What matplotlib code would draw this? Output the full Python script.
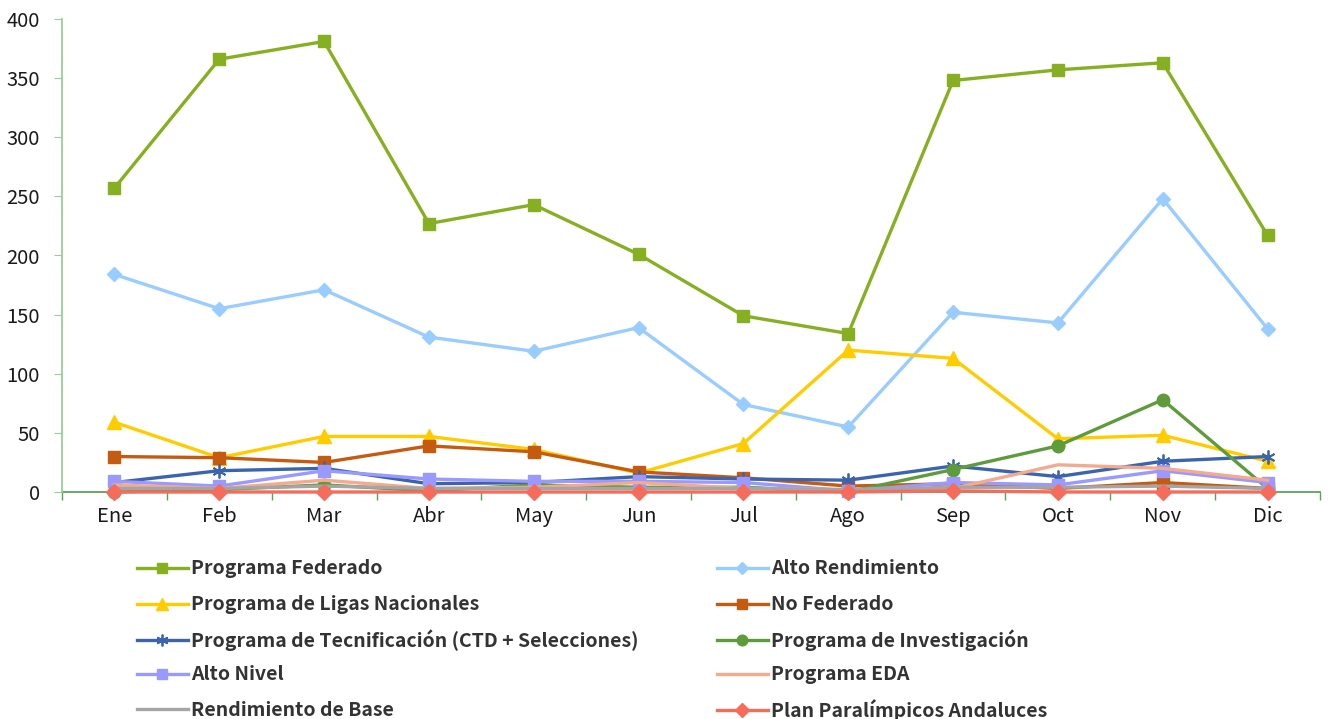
import matplotlib
matplotlib.use("Agg")
import matplotlib.pyplot as plt
from matplotlib.ticker import MultipleLocator, FixedLocator

plt.rcParams['font.family'] = ['Noto Sans CJK SC', 'DejaVu Sans']

months = ["Ene", "Feb", "Mar", "Abr", "May", "Jun", "Jul", "Ago", "Sep", "Oct", "Nov", "Dic"]

programa_federado = [257, 366, 381, 227, 243, 201, 149, 134, 348, 357, 363, 217]
alto_rendimiento = [184, 155, 171, 131, 119, 139, 74, 55, 152, 143, 248, 138]
ligas_nacionales = [59, 29, 47, 47, 36, 16, 41, 120, 113, 45, 48, 26]
no_federado = [30, 29, 25, 39, 34, 17, 12, 5, 7, 3, 8, 3]
tecnificacion = [8, 18, 20, 7, 8, 13, 11, 10, 22, 13, 26, 30]
investigacion = [0, 2, 6, 1, 6, 4, 4, 0, 19, 39, 78, 3]
alto_nivel = [9, 5, 18, 11, 9, 9, 8, 1, 8, 6, 18, 8]
programa_eda = [6, 3, 10, 3, 4, 8, 3, 2, 3, 23, 20, 10]
rendimiento_base = [3, 3, 5, 3, 3, 3, 3, 2, 4, 4, 5, 3]
paralimpicos = [0, 0, 0, 0, 0, 0, 0, 0, 1, 0, 0, 0]

W, H = 1328, 719
fig = plt.figure(figsize=(W / 100, H / 100), dpi=100)
ax = fig.add_axes([62/W, 1-492/H, (1320-62)/W, (492-19)/H])

x = list(range(len(months)))
lw = 2.4
series = [
    ("Programa Federado", programa_federado, "#86AF21", "s", 9),
    ("Alto Rendimiento", alto_rendimiento, "#99CCFF", "D", 7.2),
    ("Programa de Ligas Nacionales", ligas_nacionales, "#FFCC00", "^", 10),
    ("No Federado", no_federado, "#C55A11", "s", 9),
    ("Programa de Tecnificación (CTD + Selecciones)", tecnificacion, "#3C64AE", (6, 2, 0), 10),
    ("Programa de Investigación", investigacion, "#5E9B3B", "o", 9),
    ("Alto Nivel", alto_nivel, "#9999FF", "s", 9),
    ("Programa EDA", programa_eda, "#F4AA8E", None, 0),
    ("Rendimiento de Base", rendimiento_base, "#A5A5A5", None, 0),
    ("Plan Paralímpicos Andaluces", paralimpicos, "#F56C5C", "D", 8.2),
]

handles = []
for i, (name, vals, col, mk, ms) in enumerate(series):
    kw = dict(color=col, lw=lw, label=name, zorder=3 + i * 0.1, clip_on=False)
    if mk is not None:
        if mk == (6, 2, 0):
            kw.update(marker=mk, markersize=ms, markeredgecolor=col, markeredgewidth=1.3)
        else:
            kw.update(marker=mk, markersize=ms, markeredgecolor=col, markerfacecolor=col)
    h, = ax.plot(x, vals, **kw)
    handles.append((h, name))

ax.set_xlim(-0.5, 11.5)
ax.set_ylim(0, 400)
ax.yaxis.set_major_locator(MultipleLocator(50))
ax.set_xticks(x)
ax.set_xticklabels(months)
ax.xaxis.set_minor_locator(FixedLocator([i + 0.5 for i in range(-1, 12)]))

for s in ["top", "right"]:
    ax.spines[s].set_visible(False)
ax.spines["left"].set_color("#9ACF9A")
ax.spines["left"].set_linewidth(1.3)
ax.spines["bottom"].set_color("#5BA35B")
ax.spines["bottom"].set_linewidth(1.3)
ax.spines["bottom"].set_zorder(2)
ax.tick_params(axis="y", which="major", direction="out", length=6, color="#9ACF9A",
               labelsize=14.5, labelcolor="#1a1a1a", pad=10)
ax.tick_params(axis="x", which="major", length=0, labelsize=14.5, labelcolor="#1a1a1a", pad=10)
ax.tick_params(axis="x", which="minor", direction="out", length=6, color="#5BA35B", width=1)

# Legend: two columns, entries filled row by row
col_x = [137, 717]
row_y = [569, 605, 640, 675, 710]
for i, (h, name) in enumerate(handles):
    r, c = divmod(i, 2)
    leg = fig.legend([h], [name], loc="center left",
                     bbox_to_anchor=(col_x[c] / W, 1 - row_y[r] / H), frameon=False,
                     prop={"family": ["Noto Sans CJK SC", "DejaVu Sans"], "weight": "bold", "size": 14},
                     handlelength=2.6, handletextpad=0.2, borderpad=0, borderaxespad=0,
                     markerscale=0.85)
    for t in leg.get_texts():
        t.set_color("#333333")

fig.savefig("out.png", dpi=100)
